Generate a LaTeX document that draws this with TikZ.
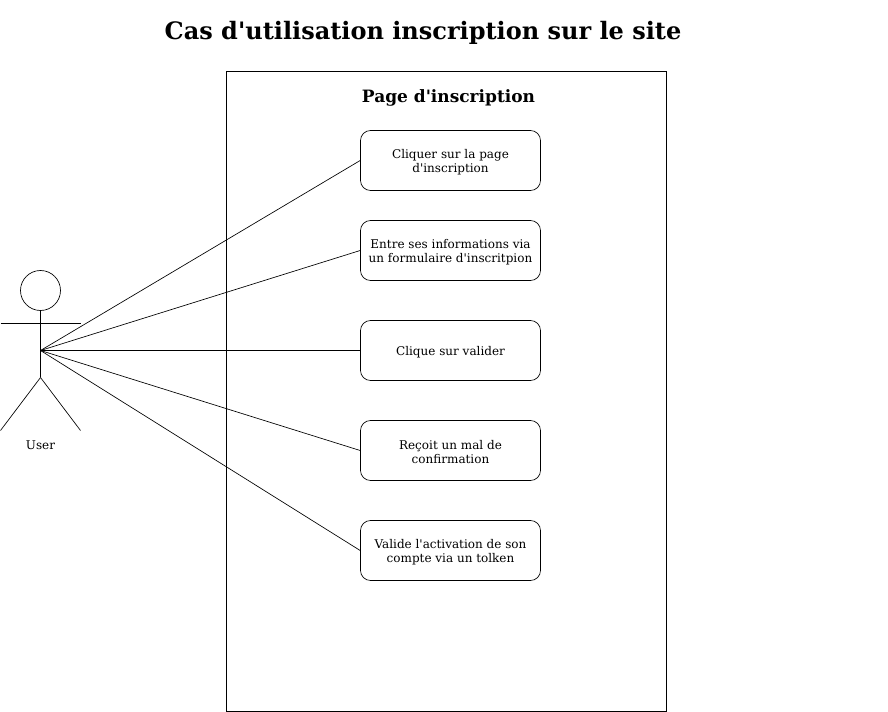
\documentclass[tikz,border=0pt]{standalone}
\usepackage{fontspec}
\setmainfont{DejaVu Serif}[Ligatures=TeXOff]
\usetikzlibrary{positioning}

\tikzset{
  usecase/.style={draw, rounded corners=7.5pt, minimum width=135pt, minimum height=45pt, inner sep=0pt},
  casetext/.style={align=center, font=\fontsize{9}{10.5}\selectfont, inner sep=0pt, yshift=-1.5pt},
  actorline/.style={line width=0.5pt},
  link/.style={line width=0.5pt}
}

\begin{document}
\begin{tikzpicture}[x=0.75pt, y=-0.75pt, line width=0.5pt]
    \useasboundingbox (0,0) rectangle (888,712);

    % Title
    \node[font=\fontsize{18}{20}\selectfont\bfseries] (title) at (423,33) {Cas d'utilisation inscription sur le site};

    % System boundary
    \node[draw, minimum width=330pt, minimum height=480pt, inner sep=0pt] (page) at (446.5,391.5) {};
    \node[font=\fontsize{12.75}{14}\selectfont\bfseries] (pagetitle) at (448.5,98) {Page d'inscription};

    % Use cases
    \node[usecase, label={[casetext]center:Cliquer sur la page\\d'inscription}] (clic) at (450.5,160.5) {};
    \node[usecase, label={[casetext]center:Entre ses informations via\\un formulaire d'inscritpion}] (info) at (450.5,250.5) {};
    \node[usecase, label={[casetext]center:Clique sur valider}] (valid) at (450.5,350.5) {};
    \node[usecase, label={[casetext]center:Reçoit un mal de\\confirmation}] (mail) at (450.5,450.5) {};
    \node[usecase, label={[casetext]center:Valide l'activation de son\\compte via un tolken}] (token) at (450.5,550.5) {};

    % Actor
    \node[draw, circle, minimum size=30pt, inner sep=0pt] (head) at (40.5,290.5) {};
    \coordinate (hip) at (40.5,377.5);
    \coordinate (center) at (40.5,350.5);
    \coordinate (armL) at (0.5,323.5);
    \coordinate (armR) at (80.5,323.5);
    \coordinate (footL) at (0.5,430.5);
    \coordinate (footR) at (80.5,430.5);
    \draw[actorline] (head) -- (hip);
    \draw[actorline] (armL) -- (armR);
    \draw[actorline] (footL) -- (hip) -- (footR);
    \node[font=\fontsize{9}{10.5}\selectfont] (user) at (40.5,445) {User};

    % Links actor to use cases
    \draw[link] (center) -- (clic.west);
    \draw[link] (center) -- (info.west);
    \draw[link] (center) -- (valid.west);
    \draw[link] (center) -- (mail.west);
    \draw[link] (center) -- (token.west);
\end{tikzpicture}
\end{document}
